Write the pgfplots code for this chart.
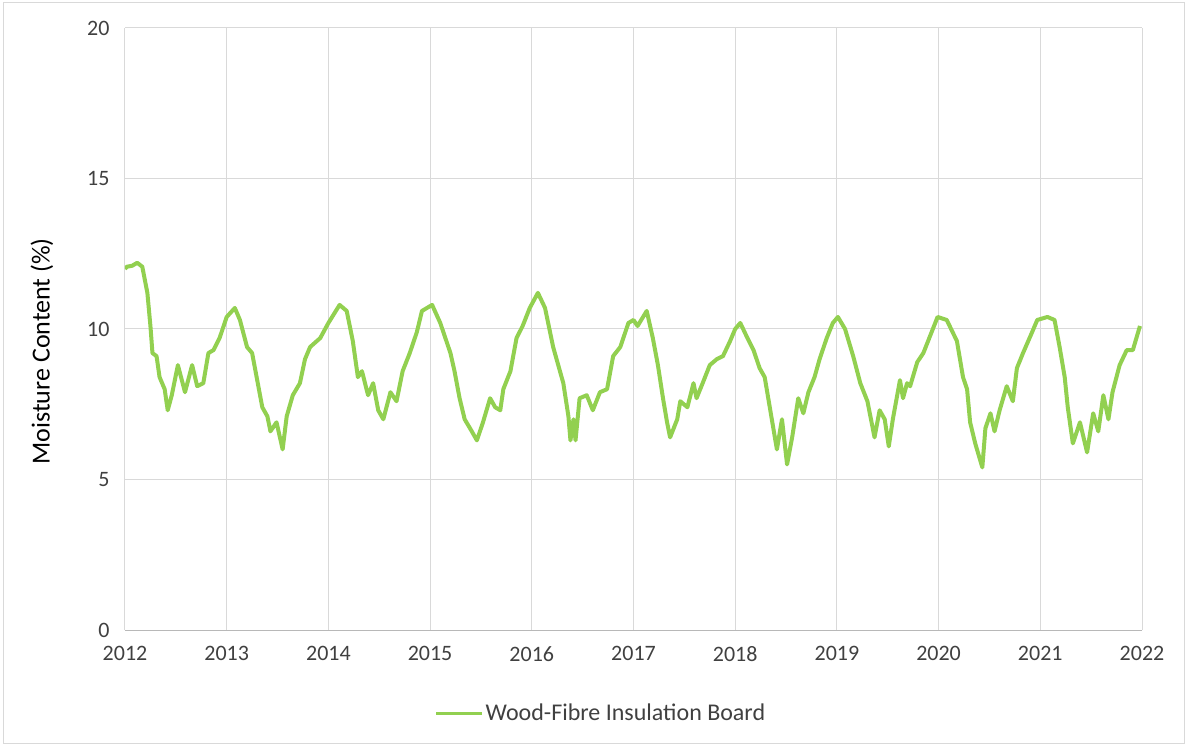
\documentclass[border=0pt]{standalone}
\usepackage{fontspec}
\setmainfont{Carlito}
\usepackage{pgfplots}
\pgfplotsset{compat=1.18}
\definecolor{wfgreen}{HTML}{92D050}
\definecolor{gridgray}{HTML}{D9D9D9}
\definecolor{txtgray}{HTML}{404040}

\begin{document}
\begin{tikzpicture}
% outer chart frame (sets the page size)
\draw[gridgray, line width=1bp] (-121bp,-113bp) rectangle (1059bp,627bp);
\path (-125bp,-115bp) rectangle (1062bp,630bp);
\begin{axis}[
  at={(0,0)}, anchor=south west,
  scale only axis, width=1017bp, height=602bp,
  xmin=2012, xmax=2022, ymin=0, ymax=20,
  xtick={2012,2013,...,2022}, ytick={0,5,10,15,20},
  x tick label style={/pgf/number format/1000 sep={}},
  /pgf/number format/assume math mode=true,
  tick label style={font=\fontsize{22bp}{26bp}\selectfont, text=txtgray},
  yticklabel style={xshift=-12bp},
  xticklabel style={yshift=-13bp},
  major tick length=0pt,
  grid=major, major grid style={gridgray, line width=1bp},
  axis x line*=bottom, axis y line*=left,
  y axis line style={draw=none},
  x axis line style={draw=gridgray!85!black, line width=1bp},
  ylabel={Moisture Content (\%)},
  ylabel style={at={(axis description cs:-0.0816,0.463)}, anchor=center,
    font=\fontsize{26bp}{30bp}\selectfont, text=black},
  legend style={at={(axis description cs:0.468,-0.138)}, anchor=center,
    draw=none, fill=none, font=\fontsize{24bp}{28bp}\selectfont, text=txtgray,
    inner sep=0pt},
  legend image code/.code={\draw[#1, line width=3bp] (0bp,0bp) -- (46bp,0bp);},
]
\addplot[wfgreen, line width=4bp, line join=round] coordinates {
(2012.00,12.0) (2012.02,12.07) (2012.07,12.1) (2012.12,12.2) (2012.17,12.07) (2012.22,11.2)
(2012.25,10.1) (2012.27,9.2) (2012.31,9.1) (2012.34,8.4) (2012.39,8.0)
(2012.42,7.3) (2012.46,7.8) (2012.52,8.8) (2012.59,7.9) (2012.66,8.8)
(2012.71,8.1) (2012.77,8.2) (2012.82,9.2) (2012.87,9.3) (2012.93,9.7)
(2013.00,10.4) (2013.08,10.7) (2013.13,10.3) (2013.20,9.4) (2013.25,9.2)
(2013.30,8.3) (2013.35,7.4) (2013.40,7.1) (2013.43,6.6) (2013.49,6.9)
(2013.55,6.0) (2013.59,7.1) (2013.65,7.8) (2013.72,8.2) (2013.77,9.0)
(2013.82,9.4) (2013.92,9.7) (2014.00,10.2) (2014.11,10.8) (2014.18,10.6)
(2014.24,9.6) (2014.29,8.4) (2014.33,8.6) (2014.39,7.8) (2014.44,8.2)
(2014.49,7.3) (2014.54,7.0) (2014.61,7.9) (2014.67,7.6) (2014.73,8.6)
(2014.80,9.2) (2014.87,9.9) (2014.92,10.6) (2015.02,10.8) (2015.10,10.2)
(2015.20,9.2) (2015.24,8.6) (2015.29,7.7) (2015.34,7.0) (2015.41,6.6)
(2015.46,6.3) (2015.52,6.9) (2015.59,7.7) (2015.64,7.4) (2015.69,7.3)
(2015.72,8.0) (2015.79,8.6) (2015.85,9.7) (2015.91,10.1) (2015.98,10.7)
(2016.06,11.2) (2016.13,10.7) (2016.21,9.4) (2016.26,8.8) (2016.31,8.2)
(2016.36,7.1) (2016.38,6.3) (2016.41,7.0) (2016.43,6.3) (2016.47,7.7)
(2016.54,7.8) (2016.60,7.3) (2016.67,7.9) (2016.74,8.0) (2016.80,9.1)
(2016.87,9.4) (2016.95,10.2) (2017.00,10.3) (2017.04,10.1) (2017.13,10.6)
(2017.19,9.7) (2017.24,8.8) (2017.29,7.7) (2017.33,6.9) (2017.36,6.4)
(2017.43,7.0) (2017.46,7.6) (2017.53,7.4) (2017.59,8.2) (2017.62,7.7)
(2017.68,8.2) (2017.75,8.8) (2017.82,9.0) (2017.88,9.1) (2017.95,9.6)
(2018.00,10.0) (2018.05,10.2) (2018.12,9.7) (2018.18,9.3) (2018.24,8.7)
(2018.29,8.4) (2018.34,7.4) (2018.41,6.0) (2018.46,7.0) (2018.51,5.5)
(2018.56,6.4) (2018.62,7.7) (2018.67,7.2) (2018.72,7.9) (2018.78,8.4)
(2018.83,9.0) (2018.90,9.7) (2018.96,10.2) (2019.01,10.4) (2019.08,10.0)
(2019.16,9.1) (2019.23,8.2) (2019.30,7.6) (2019.37,6.4) (2019.42,7.3)
(2019.47,7.0) (2019.51,6.1) (2019.55,7.0) (2019.62,8.3) (2019.65,7.7)
(2019.69,8.2) (2019.72,8.1) (2019.79,8.9) (2019.85,9.2) (2019.92,9.8)
(2019.99,10.4) (2020.08,10.3) (2020.18,9.6) (2020.24,8.4) (2020.28,8.0)
(2020.31,6.9) (2020.36,6.2) (2020.43,5.4) (2020.46,6.7) (2020.51,7.2)
(2020.55,6.6) (2020.60,7.3) (2020.67,8.1) (2020.73,7.6) (2020.77,8.7)
(2020.83,9.2) (2020.92,9.9) (2020.97,10.3) (2021.07,10.4) (2021.14,10.3)
(2021.19,9.4) (2021.24,8.4) (2021.27,7.4) (2021.32,6.2) (2021.39,6.9)
(2021.46,5.9) (2021.52,7.2) (2021.57,6.6) (2021.62,7.8) (2021.67,7.0)
(2021.71,7.9) (2021.78,8.8) (2021.85,9.3) (2021.91,9.3) (2021.98,10.1)
};
\addlegendentry{Wood-Fibre Insulation Board}
\end{axis}
\end{tikzpicture}
\end{document}
